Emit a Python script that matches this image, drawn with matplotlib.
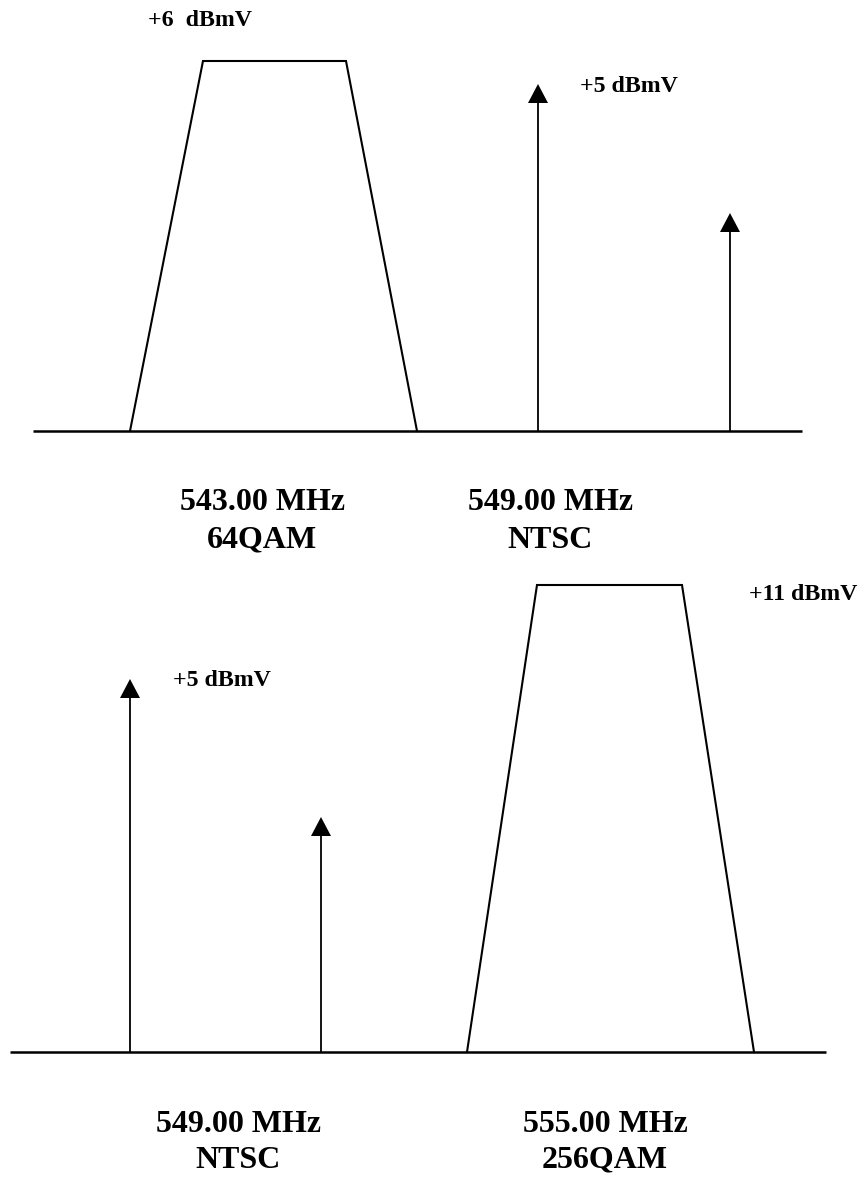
import matplotlib
matplotlib.use("Agg")
import matplotlib.pyplot as plt

# ---- data ----
# top panel
top_freq_labels = ["543.00 MHz", "549.00 MHz"]
top_mod_labels = ["64QAM", "NTSC"]
top_level_labels = ["+6  dBmV", "+5 dBmV"]
top_trap_x = [130, 203, 346, 417]
top_trap_h = [0, 370, 370, 0]
top_arrow_x = [538, 730]
top_arrow_h = [347, 218]

# bottom panel
bot_freq_labels = ["549.00 MHz", "555.00 MHz"]
bot_mod_labels = ["NTSC", "256QAM"]
bot_level_labels = ["+5 dBmV", "+11 dBmV"]
bot_trap_x = [467, 537, 682, 754]
bot_trap_h = [0, 467, 467, 0]
bot_arrow_x = [130, 321]
bot_arrow_h = [373, 235]

W, H = 864, 1180
fig = plt.figure(figsize=(W / 100, H / 100), dpi=100)
ax = fig.add_axes([0, 0, 1, 1])
ax.set_xlim(0, W)
ax.set_ylim(H, 0)
ax.axis("off")

font = dict(family="Liberation Serif", weight="bold", color="black")


def panel(base_y, x_range, trap_x, trap_h, arrow_x, arrow_h):
    ax.plot(x_range, [base_y, base_y], color="black", lw=1.8, solid_capstyle="butt")
    ax.plot(trap_x, [base_y - h for h in trap_h], color="black", lw=1.5,
            solid_joinstyle="miter")
    for x, h in zip(arrow_x, arrow_h):
        ax.arrow(x, base_y, 0, -h, width=1.8, head_width=20, head_length=19,
                 length_includes_head=True, color="black", lw=0)


# top panel
panel(431, [33, 802], top_trap_x, top_trap_h, top_arrow_x, top_arrow_h)
ax.text(148, 20, top_level_labels[0], fontsize=17.2, ha="left", va="center", **font)
ax.text(580, 87, top_level_labels[1], fontsize=17.2, ha="left", va="center", **font)
for xc, f, m in zip([262, 550], top_freq_labels, top_mod_labels):
    ax.text(xc, 503, f, fontsize=23, ha="center", va="center", **font)
    ax.text(xc, 540, m, fontsize=23, ha="center", va="center", **font)

# bottom panel
panel(1052, [10, 826], bot_trap_x, bot_trap_h, bot_arrow_x, bot_arrow_h)
ax.text(173, 680, bot_level_labels[0], fontsize=17.2, ha="left", va="center", **font)
ax.text(749, 595, bot_level_labels[1], fontsize=17.2, ha="left", va="center", **font)
for xc, f, m in zip([238, 605], bot_freq_labels, bot_mod_labels):
    ax.text(xc, 1125, f, fontsize=23, ha="center", va="center", **font)
    ax.text(xc, 1160, m, fontsize=23, ha="center", va="center", **font)

fig.savefig("out.png", dpi=100)
